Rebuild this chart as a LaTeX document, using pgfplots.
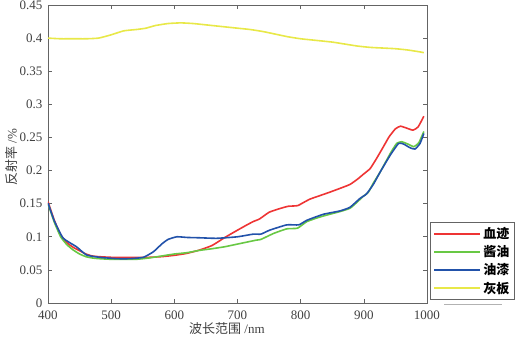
\documentclass[border=0pt]{standalone}
\usepackage{pgfplots}
\pgfplotsset{compat=1.18}
\usepackage{fontspec}
\setmainfont{Liberation Serif}
\newfontfamily\cjk{Noto Sans CJK SC}
\definecolor{cred}{RGB}{238,52,52}
\definecolor{cgreen}{RGB}{104,200,68}
\definecolor{cblue}{RGB}{34,82,170}
\definecolor{cyellow}{RGB}{232,232,72}
\definecolor{axgray}{RGB}{100,100,100}
\begin{document}
\begin{tikzpicture}
\begin{axis}[
  scale only axis, width=379pt, height=298pt,
  at={(0pt,0pt)}, anchor=south west,
  xmin=400, xmax=1000, ymin=0, ymax=0.45,
  xtick={400,500,...,1000},
  xticklabels={400,500,600,700,800,900,1000},
  ytick={0,0.05,0.1,0.15,0.2,0.25,0.3,0.35,0.4,0.45},
  yticklabels={0,0.05,0.1,0.15,0.2,0.25,0.3,0.35,0.4,0.45},
  tick align=inside, tick pos=both,
  major tick length=4pt,
  axis line style={axgray, line width=0.8pt},
  tick style={axgray, line width=0.6pt},
  ticklabel style={font=\fontsize{13}{15}\selectfont, text=black!75, inner sep=1pt},
  xticklabel style={yshift=-6.3pt},
  yticklabel style={xshift=-4.3pt},
  xlabel={{\cjk 波长范围} /nm},
  ylabel={{\cjk 反射率} /\%},
  label style={font=\fontsize{13}{15}\selectfont, text=black!75},
  xlabel style={at={(axis description cs:0.472,-0.086)}, anchor=center},
  ylabel style={at={(axis description cs:-0.096,0.49)}, anchor=center},
  legend style={at={(1.008,0.01)}, anchor=south west, draw=axgray, line width=0.8pt,
    font=\cjk\bfseries\fontsize{13}{17}\selectfont, inner xsep=3pt, inner ysep=3pt,
    row sep=1.5pt},
  legend cell align=left,
  legend image code/.code={\draw[#1, line width=2pt] (0pt,0pt) -- (46pt,0pt);},
  every axis plot/.append style={line width=1.6pt, smooth, tension=0.3},
]
\addplot[cred] coordinates {
(400,0.153)(410,0.125)(420,0.103)(430,0.091)(440,0.084)(450,0.079)(460,0.074)
(470,0.071)(480,0.070)(500,0.069)(520,0.069)(540,0.069)(560,0.069)(580,0.070)
(600,0.072)(620,0.075)(640,0.080)(660,0.087)(680,0.099)(700,0.110)(715,0.118)
(725,0.123)(735,0.127)(750,0.137)(765,0.142)(780,0.146)(795,0.147)(805,0.152)
(815,0.157)(830,0.162)(845,0.167)(862,0.173)(878,0.179)(890,0.187)(900,0.195)
(910,0.203)(920,0.218)(931,0.236)(940,0.251)(950,0.263)(958,0.267)(968,0.264)
(978,0.261)(986,0.266)(995,0.282)};
\addlegendentry{血迹}
\addplot[cgreen] coordinates {
(400,0.150)(410,0.122)(420,0.100)(430,0.088)(440,0.080)(450,0.074)(460,0.070)
(470,0.068)(480,0.067)(500,0.066)(520,0.066)(540,0.066)(560,0.068)(580,0.071)
(600,0.074)(620,0.076)(640,0.0795)(660,0.082)(680,0.085)(700,0.089)(715,0.092)
(730,0.095)(737,0.096)(757,0.105)(778,0.112)(795,0.113)(810,0.123)(831,0.130)
(850,0.135)(862,0.138)(878,0.143)(889,0.152)(899,0.161)(907,0.167)(915,0.181)
(926,0.198)(942,0.226)(952,0.241)(960,0.2435)(971,0.2395)(979,0.236)(987,0.242)
(995,0.259)};
\addlegendentry{酱油}
\addplot[cblue] coordinates {
(400,0.151)(410,0.124)(424,0.098)(445,0.085)(461,0.0725)(482,0.069)(509,0.067)
(530,0.067)(551,0.069)(567,0.0775)(580,0.089)(590,0.096)(604,0.100)(620,0.099)
(640,0.0985)(667,0.0977)(700,0.100)(725,0.104)(737,0.104)(751,0.110)(778,0.118)
(797,0.118)(810,0.125)(836,0.134)(862,0.139)(878,0.1445)(894,0.158)(904,0.1645)
(915,0.179)(926,0.198)(942,0.2235)(955,0.241)(963,0.240)(973,0.2345)(981,0.2325)
(989,0.241)(995,0.256)};
\addlegendentry{油漆}
\addplot[cyellow] coordinates {
(400,0.400)(420,0.399)(440,0.399)(460,0.399)(480,0.400)(500,0.405)(520,0.411)
(540,0.413)(555,0.415)(570,0.419)(590,0.422)(610,0.423)(630,0.422)(660,0.419)
(680,0.417)(700,0.415)(720,0.413)(740,0.410)(760,0.406)(780,0.402)(800,0.399)
(820,0.397)(850,0.394)(870,0.391)(890,0.388)(910,0.386)(930,0.385)(950,0.384)
(970,0.382)(990,0.379)(995,0.378)};
\addlegendentry{灰板}
\end{axis}
\draw[gray!60, line width=0.6pt] (396pt,-1.5pt) -- (454pt,-1.5pt);
\pgfresetboundingbox
\path[use as bounding box] (-48pt,-38pt) rectangle (481pt,303pt);
\end{tikzpicture}
\end{document}
